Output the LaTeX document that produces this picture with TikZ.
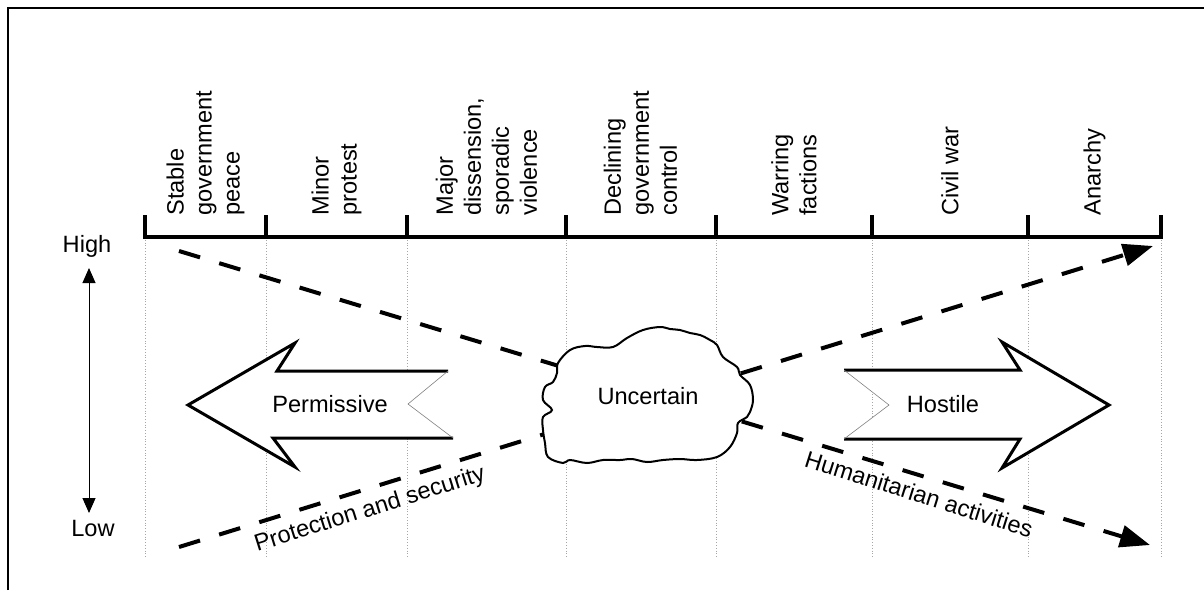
\documentclass[tikz,border=0pt]{standalone}
\usepackage{fontspec}
\setmainfont{Liberation Sans}
\usetikzlibrary{arrows.meta}
\begin{document}
\begin{tikzpicture}[x=0.5pt,y=-0.5pt,
  lbl/.style={font=\fontsize{11.8}{14}\selectfont, inner sep=0pt},
  col/.style={lbl, rotate=90, anchor=west, align=left},
  guide/.style={gray!70, densely dotted, line width=0.4pt},
  axisline/.style={line width=2pt},
  trend/.style={line width=2pt, dash pattern=on 11pt off 10pt, -{Triangle[length=15pt,width=11pt]}},
  bigarrow/.style={line width=1.5pt, line join=miter},
  notch/.style={line width=0.3pt, gray},
  scale arrow/.style={line width=0.5pt, {Triangle[length=7.5pt,width=6.5pt]}-{Triangle[length=7.5pt,width=6.5pt]}},
]
\useasboundingbox (0,0) rectangle (1204,590);
% frame
\draw[line width=1pt] (7.5,590) -- (7.5,7.5) -- (1204,7.5);
% tick positions
\foreach \n/\x in {1/145,2/266,3/407,4/566,5/716,6/872,7/1028,8/1161}{
  \coordinate (t\n) at (\x,237);
  \coordinate (u\n) at (\x,215);
  \coordinate (g\n) at (\x,558);
  \draw[guide] (t\n) -- (g\n);
}
% trend lines
\coordinate (hs) at (179,251);
\coordinate (he) at (1150,545);
\coordinate (ps) at (179,547);
\coordinate (pe) at (1153,246);
\draw[trend] (hs) -- (he);
\draw[trend] (ps) -- (pe);
% Permissive arrow
\coordinate (p1) at (448,371);
\coordinate (p2) at (277,371);
\coordinate (p3) at (295,343);
\coordinate (p4) at (188,405);
\coordinate (p5) at (295,467);
\coordinate (p6) at (273,438);
\coordinate (p7) at (453,438);
\coordinate (p8) at (408,404);
\fill[white] (p1) -- (p2) -- (p3) -- (p4) -- (p5) -- (p6) -- (p7) -- (p8) -- cycle;
\draw[bigarrow] (p1) -- (p2) -- (p3) -- (p4) -- (p5) -- (p6) -- (p7);
\draw[notch] (p1) -- (p8) -- (p7);
% Hostile arrow
\coordinate (h1) at (844,370);
\coordinate (h2) at (1020,370);
\coordinate (h3) at (1002,342);
\coordinate (h4) at (1109,405);
\coordinate (h5) at (1002,468);
\coordinate (h6) at (1020,439);
\coordinate (h7) at (844,439);
\coordinate (h8) at (889,405);
\fill[white] (h1) -- (h2) -- (h3) -- (h4) -- (h5) -- (h6) -- (h7) -- (h8) -- cycle;
\draw[bigarrow] (h1) -- (h2) -- (h3) -- (h4) -- (h5) -- (h6) -- (h7);
\draw[notch] (h1) -- (h8) -- (h7);
\node[lbl] (perm) at (330,404) {Permissive};
\node[lbl] (host) at (943,404) {Hostile};
% cloud
\draw[line width=1pt, fill=white] plot[smooth cycle, tension=0.6] coordinates {
 (558,363) (570,350) (585,346) (597,347) (613,347) (627,338) (643,330) (660,327)
 (670,329) (680,330) (690,333) (700,335) (710,340) (717,345) (723,357) (737,367)
 (740,375) (750,385) (753,400) (750,412) (747,417) (738,423) (737,433) (730,447)
 (717,457) (697,460) (680,459) (663,460) (647,462) (632,459) (620,460) (603,460)
 (587,463) (570,460) (563,463) (548,457) (545,443) (543,430) (543,417) (552,410)
 (543,400) (545,387) (553,382) (557,373)};
\node[lbl] (unc) at (648,396) {Uncertain};
% axis
\draw[axisline] (u1) -- (t1) -- (t8) -- (u8);
\foreach \n in {2,...,7}{\draw[axisline] (u\n) -- (t\n);}
% column labels
\node[col] (c1) at (205.5,216) {Stable\\government\\peace};
\node[col] (c2) at (336.5,216) {Minor\\protest};
\node[col] (c3) at (486.5,216) {Major\\dissension,\\sporadic\\violence};
\node[col] (c4) at (640.5,216) {Declining\\government\\control};
\node[col] (c5) at (794,216) {Warring\\factions};
\node[col] (c6) at (950,216) {Civil war};
\node[col] (c7) at (1094.5,216) {Anarchy};
% scale
\node[lbl] (high) at (87,246) {High};
\node[lbl] (low) at (93,528) {Low};
\coordinate (st) at (89,268);
\coordinate (sb) at (89,513);
\draw[scale arrow] (st) -- (sb);
% trend labels
\node[lbl, rotate=17.5] (prot) at (370,510) {Protection and security};
\node[lbl, rotate=-17.5] (hum) at (919,494) {Humanitarian activities};
\end{tikzpicture}
\end{document}
